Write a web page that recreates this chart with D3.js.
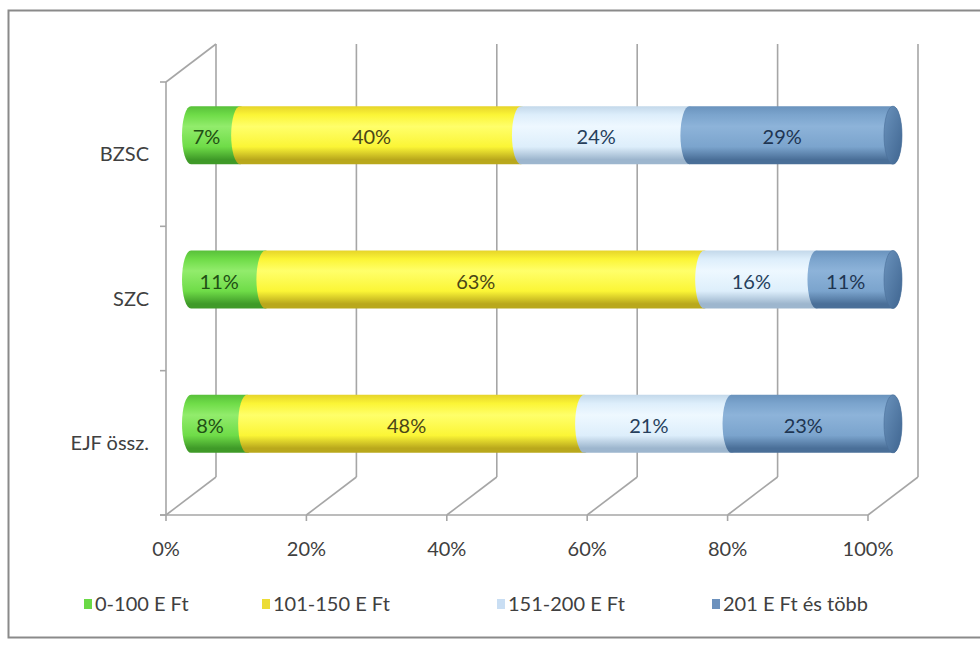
<!DOCTYPE html>
<html><head><meta charset="utf-8">
<script src="https://cdn.jsdelivr.net/npm/d3@7"></script>
<style>body{margin:0;background:#fff}svg{display:block}</style>
</head><body>
<script>
const categories = ["BZSC", "SZC", "EJF össz."];
const seriesNames = ["0-100 E Ft", "101-150 E Ft", "151-200 E Ft", "201 E Ft és több"];
const s1 = [7, 10.6, 8];      // 0-100 E Ft
const s2 = [40, 62.5, 48];    // 101-150 E Ft
const s3 = [24, 16.0, 21];    // 151-200 E Ft
const s4 = [29, 10.9, 23];    // 201 E Ft és több
const xTicks = [0, 0.2, 0.4, 0.6, 0.8, 1.0];

const W = 980, H = 648;
const svg = d3.select("body").append("svg").attr("width", W).attr("height", H);
const FONT = "Lato, 'Open Sans', sans-serif";
const FS = 20;

// frame
svg.append("rect").attr("x", 8.5).attr("y", 10.5).attr("width", 990).attr("height", 627)
  .attr("fill", "#fff").attr("stroke", "#8a8a8a").attr("stroke-width", 2);

// 3D projection helpers
const depth = {dx: 50, dy: -38};
const x = d3.scaleLinear().domain([0, 1]).range([166, 868]);
const y = d3.scaleBand().domain(categories).range([82, 515]).padding(0);
const yTop = 82, yBot = 515;
const grid = "#a6a6a6";

const g = svg.append("g");
xTicks.forEach(t => {
  g.append("line").attr("x1", x(t) + depth.dx).attr("x2", x(t) + depth.dx)
    .attr("y1", yTop + depth.dy).attr("y2", yBot + depth.dy)
    .attr("stroke", grid).attr("stroke-width", 1.6);
  g.append("line").attr("x1", x(t)).attr("y1", yBot)
    .attr("x2", x(t) + depth.dx).attr("y2", yBot + depth.dy)
    .attr("stroke", grid).attr("stroke-width", 1.6);
  g.append("line").attr("x1", x(t)).attr("x2", x(t)).attr("y1", yBot).attr("y2", yBot + 6)
    .attr("stroke", grid).attr("stroke-width", 1.6);
});
g.append("line").attr("x1", x(0)).attr("x2", x(0)).attr("y1", yTop).attr("y2", yBot)
  .attr("stroke", grid).attr("stroke-width", 1.6);
g.append("line").attr("x1", x(0)).attr("y1", yTop).attr("x2", x(0) + depth.dx).attr("y2", yTop + depth.dy)
  .attr("stroke", grid).attr("stroke-width", 1.6);
g.append("line").attr("x1", x(0) - 6).attr("x2", x(1)).attr("y1", yBot).attr("y2", yBot)
  .attr("stroke", grid).attr("stroke-width", 1.6);
[yTop, ...categories.map(c => y(c) + y.bandwidth())].forEach(v => {
  g.append("line").attr("x1", x(0) - 6).attr("x2", x(0)).attr("y1", v).attr("y2", v)
    .attr("stroke", grid).attr("stroke-width", 1.6);
});

// x tick labels
svg.append("g").selectAll("text").data(xTicks).join("text")
  .attr("x", d => x(d)).attr("y", 549).attr("dy", "0.35em")
  .attr("text-anchor", "middle").attr("font-family", FONT).attr("font-size", FS)
  .attr("fill", "#404040").text(d => d3.format(".0%")(d));

// category labels
svg.append("g").selectAll("text").data(categories).join("text")
  .attr("x", 149).attr("y", d => y(d) + y.bandwidth() / 2).attr("dy", "0.35em")
  .attr("text-anchor", "end").attr("font-family", FONT).attr("font-size", FS)
  .attr("fill", "#404040").text(d => d);

// bars
const colors = [
  {base: "#6fdc48", light: "#92ec6c", dark: "#3f9a28", top: "#58c03a", text: "#1f4f14"},
  {base: "#fbf536", light: "#ffff6a", dark: "#b9a81c", top: "#e6d42a", text: "#4a4616"},
  {base: "#ddeefb", light: "#eef8ff", dark: "#9db6ce", top: "#c3d8ea", text: "#263f5c"},
  {base: "#7ba4cd", light: "#8db3d9", dark: "#4a6f98", top: "#6a93bd", text: "#1e3552"}
];
const defs = svg.append("defs");
colors.forEach((c, i) => {
  const lg = defs.append("linearGradient").attr("id", "grad" + i)
    .attr("x1", 0).attr("y1", 0).attr("x2", 0).attr("y2", 1);
  lg.append("stop").attr("offset", "0%").attr("stop-color", c.top);
  lg.append("stop").attr("offset", "15%").attr("stop-color", c.base);
  lg.append("stop").attr("offset", "35%").attr("stop-color", c.light);
  lg.append("stop").attr("offset", "70%").attr("stop-color", c.base);
  lg.append("stop").attr("offset", "92%").attr("stop-color", c.dark);
  lg.append("stop").attr("offset", "100%").attr("stop-color", c.dark);
});
const capGrad = defs.append("linearGradient").attr("id", "capGrad").attr("x1", 0).attr("y1", 0).attr("x2", 1).attr("y2", 1);
capGrad.append("stop").attr("offset", "0%").attr("stop-color", "#6a92bc");
capGrad.append("stop").attr("offset", "100%").attr("stop-color", "#3f6590");

const series = [s1, s2, s3, s4];
const stacked = categories.map((c, ci) => {
  let acc = 0;
  return series.map((s, si) => {
    const v0 = acc; acc += s[ci];
    return {cat: c, si, v0: v0 / 100, v1: acc / 100, v: s[ci]};
  });
});
const xb = d3.scaleLinear().domain([0, 1]).range([x(0) + depth.dx / 2, x(1) + depth.dx / 2]);
const rx = 9, ry = 29;
const barG = svg.append("g");
stacked.forEach(row => {
  const cy = y(row[0].cat) + y.bandwidth() / 2 + depth.dy / 2;
  row.forEach(d => {
    const a = xb(d.v0), b = xb(d.v1);
    const p = `M${a},${cy - ry} L${b},${cy - ry} A${rx},${ry} 0 0 1 ${b},${cy + ry} L${a},${cy + ry} A${rx},${ry} 0 0 1 ${a},${cy - ry} Z`;
    barG.append("path").attr("d", p).attr("fill", `url(#grad${d.si})`);
  });
  const end = xb(row[row.length - 1].v1);
  barG.append("ellipse").attr("cx", end).attr("cy", cy).attr("rx", rx).attr("ry", ry)
    .attr("fill", "url(#capGrad)").attr("stroke", "#4a6f98").attr("stroke-width", 0.6);
  row.forEach(d => {
    barG.append("text")
      .attr("x", (xb(d.v0) + xb(d.v1)) / 2 - rx)
      .attr("y", cy + 2).attr("dy", "0.35em").attr("text-anchor", "middle")
      .attr("font-family", FONT).attr("font-size", FS).attr("fill", colors[d.si].text)
      .text(Math.round(d.v) + "%");
  });
});

// legend
const legX = [84, 262, 497, 712];
const legColors = ["#6ad946", "#ecdc36", "#c9def3", "#6c91bd"];
const leg = svg.append("g");
seriesNames.forEach((n, i) => {
  leg.append("rect").attr("x", legX[i]).attr("y", 599).attr("width", 8).attr("height", 10)
    .attr("fill", legColors[i]);
  leg.append("text").attr("x", legX[i] + 11).attr("y", 604).attr("dy", "0.35em")
    .attr("font-family", FONT).attr("font-size", FS).attr("fill", "#404040").text(n);
});
</script>
</body></html>
